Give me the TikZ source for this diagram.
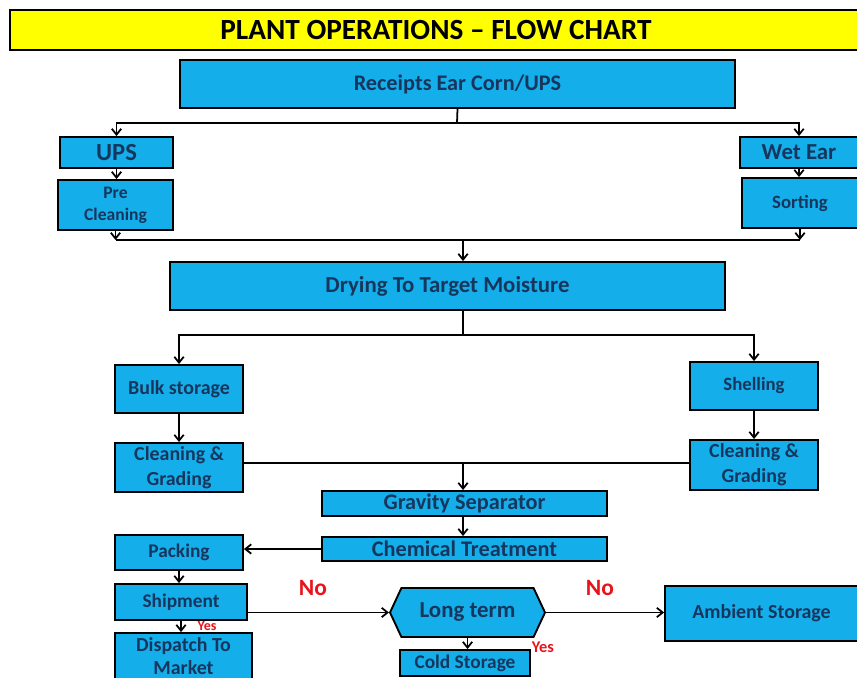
\documentclass[tikz,border=0pt]{standalone}
\usepackage{fontspec}
\setmainfont{Carlito}
\usetikzlibrary{arrows.meta,shapes.symbols}
\definecolor{boxblue}{HTML}{14AEEA}
\definecolor{boxink}{HTML}{17365D}
\definecolor{titleyellow}{HTML}{FFFF00}
\definecolor{notered}{HTML}{E8141B}

\begin{document}
\begin{tikzpicture}[x=0.03cm, y=-0.03cm, >={Straight Barb[length=5pt,width=8pt]},
                    every node/.style={text=boxink},
                    fs/.style 2 args={font=\bfseries\fontsize{#1}{#2}\selectfont},
                    box/.style={draw=black, line width=1.6pt, fill=boxblue, inner sep=0pt, align=center},
                    wh/.style 2 args={minimum width=#1*0.03cm, minimum height=#2*0.03cm},
                    link/.style={draw=black, line width=1.5pt},
                    note/.style={text=notered, fs={20}{22}},
                    smallnote/.style={text=notered, fs={12}{13}}]

  \useasboundingbox (0,0) rectangle (857,678);

  %% title bar
  \node[draw=black, line width=1.6pt, fill=titleyellow, wh={852}{40}, inner sep=0pt,
        text=black, fs={25}{28}] (title) at (436,30)
    {PLANT OPERATIONS -- FLOW CHART};

  %% receiving and first split
  \node[box, wh={555}{48}, fs={19}{22}] (recv) at (457.5,84) {Receipts Ear Corn/UPS};
  \node[box, wh={113}{31}, fs={21}{24}] (ups)  at (116.5,152.5) {UPS};
  \node[box, wh={115}{50}, fs={15}{19}] (pre)  at (115.5,205) {Pre\\Cleaning};
  \node[box, wh={118}{31}, fs={19.5}{22}] (wet)  at (799,152.5) {Wet Ear};
  \node[box, wh={116}{50}, fs={16}{19}] (sort) at (800,203) {Sorting};

  %% drying
  \node[box, wh={555}{48}, fs={19.5}{22}] (dry) at (447.5,286) {Drying To Target Moisture};

  %% the two branches after drying
  \node[box, wh={128}{48}, fs={17}{20}] (bulk)  at (179,389) {Bulk storage};
  \node[box, wh={128}{49}, fs={17}{21}] (cgl)   at (179,467.5) {Cleaning \&\\Grading};
  \node[box, wh={128}{48}, fs={16}{19}] (shell) at (754,386) {Shelling};
  \node[box, wh={128}{50}, fs={17}{21}] (cgr)   at (754,465) {Cleaning \&\\Grading};

  %% treatment
  \node[box, wh={285}{25}, fs={19}{22}] (grav) at (464.5,503.5) {Gravity Separator};
  \node[box, wh={285}{24}, fs={19}{22}] (chem) at (464.5,549) {Chemical Treatment};

  %% packing and shipping
  \node[box, wh={128}{35}, fs={16.5}{19}] (pack) at (179,552.5) {Packing};
  \node[box, wh={132}{36}, fs={16.5}{19}] (ship) at (181,602) {Shipment};
  \node[box, wh={137}{46}, fs={17}{19.5}] (disp) at (183.5,656) {Dispatch  To\\Market};

  %% storage decision
  \node[box, shape=signal, signal to=east and west, signal pointer angle=130,
        wh={155}{49}, fs={19.5}{22}] (long) at (467.5,612.5) {Long term};
  \node[box, wh={193}{55}, fs={17}{20}] (amb)  at (761.5,613.5) {Ambient Storage};
  \node[box, wh={130}{26}, fs={16.5}{19}] (cold) at (465,663) {Cold Storage};

  %% decision labels
  \node[note] (no1) at (313,588) {No};
  \node[note] (no2) at (600,588) {No};
  \node[smallnote] (yes1) at (207,626) {Yes};
  \node[smallnote, fs={14}{15}] (yes2) at (543,647) {Yes};

  %% receipts split to UPS / wet ear
  \coordinate (split1) at (457,123);
  \draw[link] (recv.south) -- (split1);
  \draw[link, ->] (split1) -| (ups.north);
  \draw[link, ->] (split1) -| (wet.north);
  \draw[link, ->] (ups.south) -- (ups.south |- pre.north);
  \draw[link, ->] (wet.south) -- (wet.south |- sort.north);

  %% merge into drying
  \coordinate (merge1) at (463,240);
  \draw[link, ->] (pre.south) -- (pre.south |- merge1);
  \draw[link, ->] (sort.south) -- (sort.south |- merge1);
  \draw[link] (pre.south |- merge1) -- (sort.south |- merge1);
  \draw[link, ->] (merge1) -- (merge1 |- dry.north);

  %% drying split to bulk / shelling
  \coordinate (split2) at (463,335);
  \draw[link] (merge1 |- dry.south) -- (split2);
  \draw[link, ->] (split2) -| (bulk.north);
  \draw[link, ->] (split2) -| (shell.north);
  \draw[link, ->] (bulk) -- (cgl);
  \draw[link, ->] (shell) -- (cgr);

  %% merge into gravity separator
  \coordinate (merge2) at (463,463);
  \draw[link] (cgl.east |- merge2) -- (cgr.west |- merge2);
  \draw[link, ->] (merge2) -- (merge2 |- grav.north);
  \draw[link, ->] (merge2 |- grav.south) -- (merge2 |- chem.north);
  \draw[link, ->] (chem.west) -- (chem.west -| pack.east);

  %% packing down to dispatch
  \draw[link, ->] (pack.south) -- (pack.south |- ship.north);
  \draw[link, ->] (ship.south) -- (ship.south |- disp.north);

  %% storage decision
  \draw[link, ->] (ship.east |- long.west) -- (long.west);
  \draw[link, ->] (long.east) -- (long.east -| amb.west);
  \draw[link, ->] (long.south) -- (long.south |- cold.north);

\end{tikzpicture}
\end{document}
